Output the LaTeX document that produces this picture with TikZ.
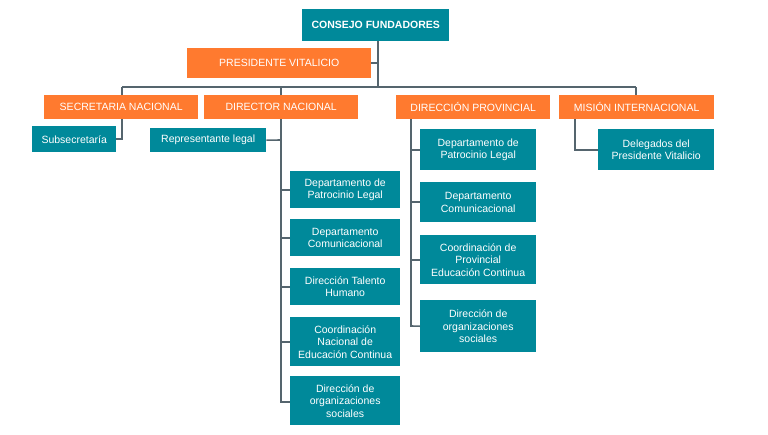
\documentclass[tikz,border=0pt]{standalone}
\usepackage{fontspec}
\setmainfont{Liberation Sans}
\definecolor{teal}{HTML}{00899A}
\definecolor{orng}{HTML}{FF7A2F}
\definecolor{ln}{HTML}{55656E}
\begin{document}
\begin{tikzpicture}[x=1pt,y=1pt,
  base/.style={anchor=north west,inner sep=1pt,text=white,align=center,font=\fontsize{10.5}{12.5}\selectfont},
  tbox/.style={base,fill=teal},
  obox/.style={base,fill=orng},
  conn/.style={draw=ln,line width=1.6pt}]
\useasboundingbox (0,0) rectangle (768,-434);
\newcommand\bx[7]{\node[#1,minimum width=#4pt,minimum height=#5pt,text width=#4pt-2pt] (#2) at (#3) {#6};}
% top
\node[tbox,minimum width=147pt,minimum height=32pt,font=\bfseries\fontsize{10.5}{12.5}\selectfont] (cf) at (302,-9) {CONSEJO FUNDADORES};
\node[obox,minimum width=184pt,minimum height=30pt] (pv) at (187,-48) {PRESIDENTE VITALICIO};
\node[obox,minimum width=154pt,minimum height=24pt] (sn) at (44,-95) {SECRETARIA NACIONAL};
\node[obox,minimum width=154pt,minimum height=24pt] (dn) at (204,-95) {DIRECTOR NACIONAL};
\node[obox,minimum width=154pt,minimum height=24pt] (dp) at (396,-95) {DIRECCIÓN PROVINCIAL};
\node[obox,minimum width=155pt,minimum height=24pt] (mi) at (559,-95) {MISIÓN INTERNACIONAL};
% level 2
\node[tbox,minimum width=84pt,minimum height=26pt] (ss) at (32,-126) {Subsecretaría};
\node[tbox,minimum width=116pt,minimum height=24pt] (rl) at (150,-128) {Representante legal};
\node[tbox,minimum width=116pt,minimum height=41pt] (dg) at (598,-129) {Delegados del\\Presidente Vitalicio};
% director column
\node[tbox,minimum width=110pt,minimum height=37pt] (d1) at (290,-171) {Departamento de\\Patrocinio Legal};
\node[tbox,minimum width=110pt,minimum height=37pt] (d2) at (290,-219) {Departamento\\Comunicacional};
\node[tbox,minimum width=110pt,minimum height=37pt] (d3) at (290,-268) {Dirección Talento\\Humano};
\node[tbox,minimum width=110pt,minimum height=49pt] (d4) at (290,-317) {Coordinación\\Nacional de\\Educación Continua};
\node[tbox,minimum width=110pt,minimum height=49pt] (d5) at (290,-376) {Dirección de\\organizaciones\\sociales};
% provincial column
\node[tbox,minimum width=116pt,minimum height=41pt] (p1) at (420,-129) {Departamento de\\Patrocinio Legal};
\node[tbox,minimum width=116pt,minimum height=40pt] (p2) at (420,-182) {Departamento\\Comunicacional};
\node[tbox,minimum width=116pt,minimum height=49pt] (p3) at (420,-235) {Coordinación de\\Provincial\\Educación Continua};
\node[tbox,minimum width=116pt,minimum height=52pt] (p4) at (420,-300) {Dirección de\\organizaciones\\sociales};
% connectors
\coordinate (t) at (378,-87);
\draw[conn] (cf.south -| t) -- (t);
\draw[conn] (pv.east) -- (pv.east -| t);
\draw[conn] (122,-87) coordinate (bl) -- (636,-87) coordinate (br);
\draw[conn] (bl) -- (bl |- sn.north);
\draw[conn] (281,-87) -- (281,-95);
\draw[conn] (br) -- (br |- mi.north);
\draw[conn] (sn.south -| bl) |- (ss.east);
\draw[conn] (281,-119) -- (281,-402) -- (d5.west |- 0,-402);
\draw[conn] (rl.east) -- (281,-140);
\foreach \n in {d1,d2,d3,d4} \draw[conn] (\n.west) -- (\n.west -| 281,0);
\draw[conn] (411,-119) -- (411,-326) -- (p4.west);
\foreach \n in {p1,p2,p3} \draw[conn] (\n.west) -- (\n.west -| 411,0);
\draw[conn] (575,-119) |- (dg.west);
\end{tikzpicture}
\end{document}
